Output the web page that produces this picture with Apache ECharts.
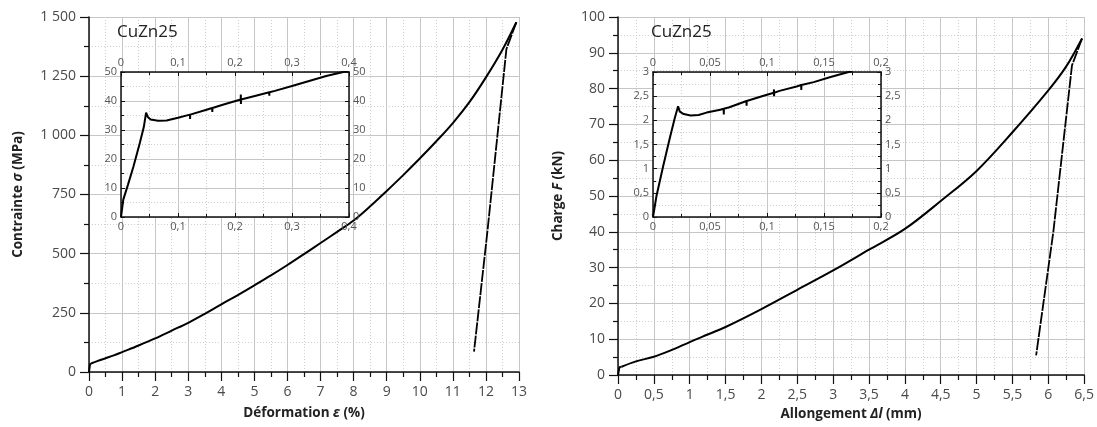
<!DOCTYPE html>
<html><head><meta charset="utf-8">
<script src="https://cdn.jsdelivr.net/npm/echarts@6/dist/echarts.min.js"></script>
<style>html,body{margin:0;padding:0;background:#fff}#c{width:1097px;height:427px}</style>
</head><body><div id="c"></div>
<script>
// ---- Data: stress-strain (left chart) ----
const startStrainPct = [0, 0.03, 0.06];
const startStressMPa = [0, 33, 36];
const strainPct = [0.06, 0.25, 0.5, 0.75, 1, 1.5, 2, 2.5, 3, 3.5, 4, 4.5, 5, 5.5, 6, 6.5, 7, 7.5, 8, 8.5, 9, 9.5, 10, 10.5, 11, 11.5, 12, 12.5, 12.92];
const stressMPa = [36, 46, 58, 70, 84, 112, 142, 175, 208, 246, 286, 325, 366, 408, 452, 498, 545, 592, 640, 700, 765, 832, 902, 975, 1052, 1140, 1245, 1362, 1478];
const unloadStrainPct = [12.92, 12.62, 12.05, 11.64];
const unloadStressMPa = [1478, 1365, 600, 86];
// inset (zoom on elastic part)
const insetStrainPct = [0, 0.004, 0.008, 0.012, 0.022, 0.033, 0.04, 0.044, 0.047, 0.052, 0.065, 0.08, 0.1, 0.121, 0.1212, 0.1214, 0.15, 0.16, 0.1602, 0.1604, 0.18, 0.21, 0.2102, 0.2104, 0.2106, 0.24, 0.26, 0.2602, 0.2604, 0.27, 0.3, 0.33, 0.36, 0.39, 0.4];
const insetStressMPa = [0, 6, 8.5, 11, 17.5, 25.5, 31, 36, 34.5, 33.6, 33.2, 33.3, 34.2, 35.3, 33.8, 35.3, 37, 37.6, 36.2, 37.6, 38.8, 40.5, 42.2, 39, 40.5, 42, 43, 41.8, 43, 43.5, 45.2, 46.9, 48.6, 50, 50.6];

// ---- Data: load-elongation (right chart) ----
const startElongMm = [0, 0.02, 0.05];
const startLoadKN = [0, 2.2, 2.3];
const elongMm = [0.05, 0.25, 0.5, 0.75, 1, 1.25, 1.5, 2, 2.5, 3, 3.5, 4, 4.5, 5, 5.5, 6, 6.25, 6.47];
const loadKN = [2.3, 3.8, 5.1, 7.0, 9.2, 11.3, 13.4, 18.4, 23.8, 29.2, 35.0, 40.8, 48.6, 57.0, 67.8, 79.5, 86.2, 94];
const unloadElongMm = [6.47, 6.33, 6.07, 5.83];
const unloadLoadKN = [94, 86.5, 40, 5.5];
const insetElongMm = [0, 0.003, 0.0088, 0.0147, 0.019, 0.022, 0.0235, 0.027, 0.033, 0.04, 0.047, 0.059, 0.062, 0.0621, 0.0622, 0.067, 0.082, 0.0821, 0.0822, 0.097, 0.106, 0.1061, 0.1062, 0.1063, 0.111, 0.126, 0.13, 0.1301, 0.1302, 0.141, 0.155, 0.17, 0.175];
const insetLoadKN = [0, 0.43, 1.04, 1.63, 2.04, 2.29, 2.18, 2.13, 2.1, 2.11, 2.16, 2.22, 2.24, 2.12, 2.24, 2.27, 2.4, 2.3, 2.4, 2.51, 2.57, 2.64, 2.5, 2.57, 2.61, 2.7, 2.73, 2.63, 2.73, 2.79, 2.89, 2.99, 3.02];

const zip = (a, b) => a.map((v, i) => [v, b[i]]);

const FONT = 'Open Sans';
const comma = v => String(+(+v).toFixed(3)).replace('.', ',');
const thousands = v => String(v).replace(/\B(?=(\d{3})+(?!\d))/g, ' ');
const nameRich = {
  b: {fontFamily: FONT, fontWeight: 'bold', fontSize: 13.5, color: '#222'},
  i: {fontFamily: FONT, fontWeight: 'bold', fontStyle: 'italic', fontSize: 13.5, color: '#222'}
};
const gridMajor = {show: true, lineStyle: {color: '#c6c6c6', width: 1}};
const gridMinor = {show: true, lineStyle: {color: '#cfcfcf', width: 1, type: [1, 2]}};
const mainLabel = {color: '#4a4a4a', fontFamily: FONT, fontSize: 14, margin: 13};

function mainAxis(o) {
  return Object.assign({
    type: 'value',
    axisLine: {show: true, onZero: false, lineStyle: {color: '#111', width: 1.5}},
    axisTick: {show: true, length: 9, lineStyle: {color: '#111', width: 1.2}},
    minorTick: {show: true, splitNumber: 2, length: 5, lineStyle: {color: '#111', width: 1.2}},
    splitLine: gridMajor,
    minorSplitLine: gridMinor,
    axisLabel: mainLabel,
    nameLocation: 'middle',
    nameTextStyle: {rich: nameRich}
  }, o);
}
function insetAxis(o, withGrid) {
  return Object.assign({
    type: 'value',
    z: 6,
    axisLine: {show: true, onZero: false, lineStyle: {color: '#111', width: 1.5}},
    axisTick: {show: true, inside: true, length: 4, lineStyle: {color: '#111', width: 1}},
    minorTick: {show: true, splitNumber: 2, length: 3, lineStyle: {color: '#111', width: 1}},
    splitLine: withGrid ? gridMajor : {show: false},
    minorSplitLine: withGrid ? gridMinor : {show: false},
    axisLabel: {color: '#555', fontFamily: FONT, fontSize: 11, margin: 4, formatter: comma}
  }, o);
}
const curve = {color: '#000', width: 2};
const dashed = {color: '#000', width: 1.8, type: [12, 1.2]};

const chart = echarts.init(document.getElementById('c'));
chart.setOption({
  animation: false,
  backgroundColor: '#fff',
  title: [
    {text: 'CuZn25', left: 117, top: 24, padding: 0, textStyle: {fontFamily: FONT, fontSize: 17, fontWeight: 'normal', color: '#222'}},
    {text: 'CuZn25', left: 651, top: 24, padding: 0, textStyle: {fontFamily: FONT, fontSize: 17, fontWeight: 'normal', color: '#222'}}
  ],
  grid: [
    {left: 89, top: 17, width: 430, height: 355},
    {left: 618, top: 17, width: 467, height: 358},
    {left: 121, top: 72, width: 228, height: 145, show: true, backgroundColor: '#fff', borderWidth: 0, z: 5},
    {left: 653, top: 72, width: 228, height: 145, show: true, backgroundColor: '#fff', borderWidth: 0, z: 5}
  ],
  xAxis: [
    mainAxis({gridIndex: 0, min: 0, max: 13, interval: 1,
      name: '{b|Déformation }{i|ε}{b| (%)}', nameGap: 34}),
    mainAxis({gridIndex: 1, min: 0, max: 6.5, interval: 0.5,
      axisLabel: Object.assign({}, mainLabel, {formatter: comma}),
      name: '{b|Allongement }{i|Δl}{b| (mm)}', nameGap: 31}),
    insetAxis({gridIndex: 2, min: 0, max: 0.4, interval: 0.1, position: 'bottom'}, true),
    insetAxis({gridIndex: 2, min: 0, max: 0.4, interval: 0.1, position: 'top'}, false),
    insetAxis({gridIndex: 3, min: 0, max: 0.2, interval: 0.05, position: 'bottom'}, true),
    insetAxis({gridIndex: 3, min: 0, max: 0.2, interval: 0.05, position: 'top'}, false)
  ],
  yAxis: [
    mainAxis({gridIndex: 0, min: 0, max: 1500, interval: 250,
      axisLabel: Object.assign({}, mainLabel, {formatter: thousands}),
      name: '{b|Contrainte }{i|σ}{b| (MPa)}', nameGap: 64}),
    mainAxis({gridIndex: 1, min: 0, max: 100, interval: 10,
      name: '{b|Charge }{i|F}{b| (kN)}', nameGap: 53}),
    insetAxis({gridIndex: 2, min: 0, max: 50, interval: 10, position: 'left'}, true),
    insetAxis({gridIndex: 2, min: 0, max: 50, interval: 10, position: 'right'}, false),
    insetAxis({gridIndex: 3, min: 0, max: 3, interval: 0.5, position: 'left'}, true),
    insetAxis({gridIndex: 3, min: 0, max: 3, interval: 0.5, position: 'right'}, false)
  ],
  series: [
    {type: 'line', xAxisIndex: 0, yAxisIndex: 0, data: zip(startStrainPct, startStressMPa), showSymbol: false, lineStyle: curve, z: 2},
    {type: 'line', xAxisIndex: 0, yAxisIndex: 0, data: zip(strainPct, stressMPa), showSymbol: false, smooth: 0.35, lineStyle: curve, z: 2},
    {type: 'line', xAxisIndex: 0, yAxisIndex: 0, data: zip(unloadStrainPct, unloadStressMPa), showSymbol: false, lineStyle: dashed, z: 2},
    {type: 'line', xAxisIndex: 1, yAxisIndex: 1, data: zip(startElongMm, startLoadKN), showSymbol: false, lineStyle: curve, z: 2},
    {type: 'line', xAxisIndex: 1, yAxisIndex: 1, data: zip(elongMm, loadKN), showSymbol: false, smooth: 0.35, lineStyle: curve, z: 2},
    {type: 'line', xAxisIndex: 1, yAxisIndex: 1, data: zip(unloadElongMm, unloadLoadKN), showSymbol: false, lineStyle: dashed, z: 2},
    {type: 'line', xAxisIndex: 2, yAxisIndex: 2, data: zip(insetStrainPct, insetStressMPa), showSymbol: false, lineStyle: {color: '#000', width: 2}, z: 7},
    {type: 'line', xAxisIndex: 4, yAxisIndex: 4, data: zip(insetElongMm, insetLoadKN), showSymbol: false, lineStyle: {color: '#000', width: 2}, z: 7}
  ]
});
</script>
</body></html>
